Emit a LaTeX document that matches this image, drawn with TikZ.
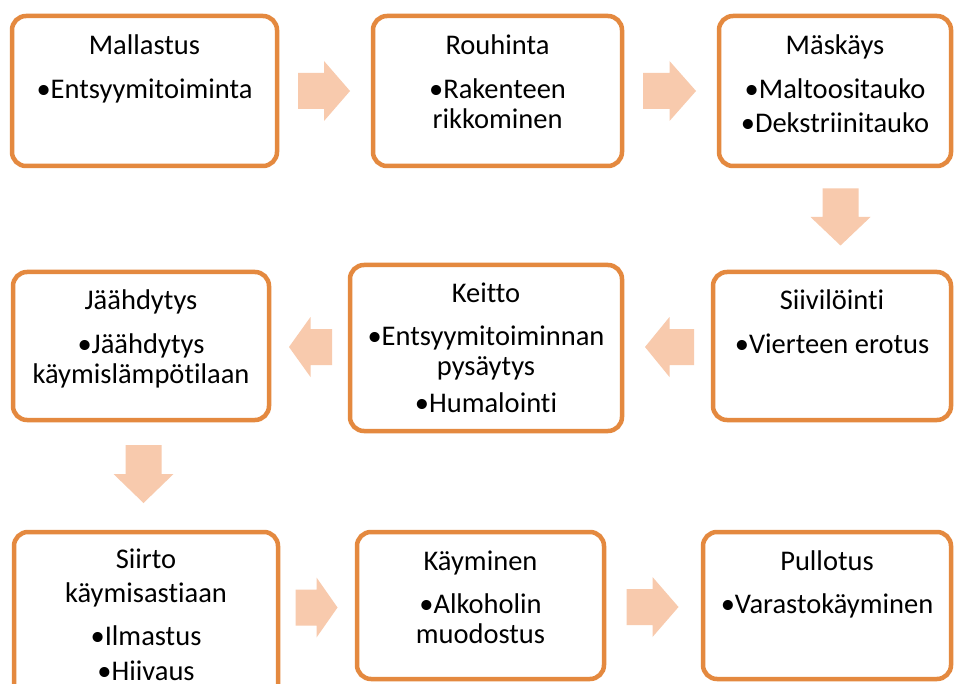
\documentclass[tikz,border=0pt]{standalone}
\usepackage{fontspec}
\setmainfont{Carlito}[Ligatures=NoCommon]
\usetikzlibrary{calc}
\definecolor{boxorange}{HTML}{E4893F}
\definecolor{arrowpeach}{HTML}{F8CAAD}
\tikzset{
  stepbox/.style={draw=boxorange, line width=4.5pt, rounded corners=14pt, fill=white, inner sep=0pt},
  lbl/.style={inner sep=0pt, align=center, anchor=north, font=\fontsize{28.5}{30}\selectfont, text=black},
  arrowfill/.style={fill=arrowpeach}
}
\newcommand{\blockarrow}[4]{%
  \coordinate (#1) at (#2);
  \fill[arrowfill, shift={(#1)}, rotate=#4] (-#3/2,-18) -- (0,-18) -- (0,-30) -- (#3/2,0) -- (0,30) -- (0,18) -- (-#3/2,18) -- cycle;
}
\newcommand{\fl}{\rule{0pt}{24pt}}
\begin{document}
\begin{tikzpicture}[x=1pt,y=-1pt]
\path[use as bounding box] (0,0) rectangle (960,684);
\clip (0,0) rectangle (960,684);
\fill[white] (0,0) rectangle (960,684);

% boxes
\node[stepbox, minimum width=265pt, minimum height=150pt] (b1) at (144.5,91) {};
\node[stepbox, minimum width=249pt, minimum height=150pt] (b2) at (497.5,91) {};
\node[stepbox, minimum width=232pt, minimum height=150pt] (b3) at (835,91) {};
\node[stepbox, minimum width=238pt, minimum height=148pt] (b4) at (832,346) {};
\node[stepbox, minimum width=272pt, minimum height=166pt] (b5) at (486,348) {};
\node[stepbox, minimum width=256pt, minimum height=148pt] (b6) at (141,346) {};
\node[stepbox, minimum width=264pt, minimum height=178pt] (b7) at (146,621) {};
\node[stepbox, minimum width=247pt, minimum height=147pt] (b8) at (480.5,605.5) {};
\node[stepbox, minimum width=248pt, minimum height=147pt] (b9) at (827,605.5) {};

% texts
\node[lbl] (t1) at ($(b1.north)+(0,17)$) {\fl Mallastus\\[14pt]•Entsyymitoiminta};
\node[lbl] (t2) at ($(b2.north)+(0,17)$) {\fl Rouhinta\\[14pt]•Rakenteen\\rikkominen};
\node[lbl] (t3) at ($(b3.north)+(0,17)$) {\fl Mäskäys\\[14pt]•Maltoositauko\\[4pt]•Dekstriinitauko};
\node[lbl] (t4) at ($(b4.north)+(0,16)$) {\fl Siivilöinti\\[14pt]•Vierteen erotus};
\node[lbl] (t5) at ($(b5.north)+(0,16)$) {\fl Keitto\\[13pt]•Entsyymitoiminnan\\pysäytys\\[7pt]•Humalointi};
\node[lbl] (t6) at ($(b6.north)+(0,16)$) {\fl Jäähdytys\\[14pt]•Jäähdytys\\käymislämpötilaan};
\node[lbl] (t7) at ($(b7.north)+(0,15)$) {\fl Siirto\\[4pt]käymisastiaan\\[13pt]•Ilmastus\\[5pt]•Hiivaus};
\node[lbl] (t8) at ($(b8.north)+(0,17)$) {\fl Käyminen\\[13pt]•Alkoholin\\muodostus};
\node[lbl] (t9) at ($(b9.north)+(0,17)$) {\fl Pullotus\\[13pt]•Varastokäyminen};

% block arrows
\blockarrow{a1}{$(b1.east)!0.5!(b2.west)+(-1,0)$}{52}{0}
\blockarrow{a2}{$(b2.east)!0.5!(b3.west)+(-1,0)$}{53}{0}
\blockarrow{a3}{$(b3.south)!0.5!(b4.north)+(7,-2)$}{57}{-90}
\blockarrow{a4}{$(b5.east)!0.5!(b4.west)+(2,0)$}{49}{180}
\blockarrow{a5}{$(b6.east)!0.5!(b5.west)+(1,0)$}{43}{180}
\blockarrow{a6}{$(b6.south)!0.5!(b7.north)+(0,-2)$}{58}{-90}
\blockarrow{a7}{$(b7.east|-b8.west)!0.5!(b8.west)+(-1,2)$}{42}{0}
\blockarrow{a8}{$(b8.east)!0.5!(b9.west)+(-1,1.5)$}{52}{0}
\end{tikzpicture}
\end{document}
